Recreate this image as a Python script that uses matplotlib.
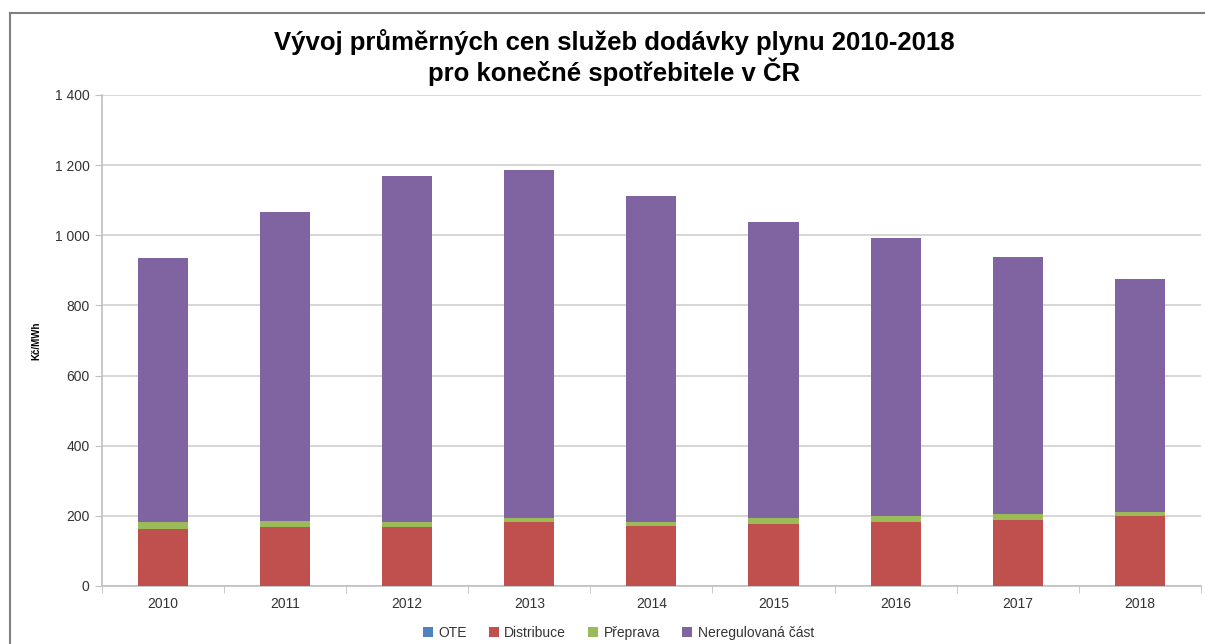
import numpy as np
import matplotlib.pyplot as plt
from matplotlib.lines import Line2D

# data (Kč/MWh)
years = ['2010', '2011', '2012', '2013', '2014', '2015', '2016', '2017', '2018']
ote = [1, 1, 1, 1, 1, 1, 1, 1, 1]
distribuce = [162, 167, 168, 181, 170, 176, 181, 188, 199]
preprava = [19, 16, 13, 11, 11, 18, 18, 17, 11]
neregulovana = [752, 881, 986, 992, 929, 842, 791, 731, 663]

series_names = ['OTE', 'Distribuce', 'Přeprava', 'Neregulovaná část']
colors = ['#4F81BD', '#C0504D', '#9BBB59', '#8064A2']

plt.rcParams['font.family'] = ['Liberation Sans', 'DejaVu Sans']

fig = plt.figure(figsize=(12.05, 6.44), dpi=100)
ax = fig.add_axes([0.0846, 0.0901, 0.912, 0.7624])

x = np.arange(len(years))
bottom = np.zeros(len(years))
for vals, name, col in zip([ote, distribuce, preprava, neregulovana], series_names, colors):
    ax.bar(x, vals, width=0.41, bottom=bottom, color=col, label=name, zorder=3)
    bottom += np.array(vals)

ax.set_xlim(-0.5, len(years) - 0.5)
ax.set_ylim(0, 1400)
ax.set_yticks(range(0, 1401, 200))
ax.set_yticklabels(['0', '200', '400', '600', '800', '1 000', '1 200', '1 400'])
ax.set_xticks(x)
ax.set_xticklabels(years)
ax.set_xticks(np.arange(-0.5, len(years), 1), minor=True)

ax.grid(axis='y', color='#D0D0D0', lw=1.2, zorder=0)
for s in ['top', 'right']:
    ax.spines[s].set_visible(False)
for s in ['left', 'bottom']:
    ax.spines[s].set_color('#BFBFBF')
    ax.spines[s].set_linewidth(1.2)
ax.tick_params(axis='y', length=5, color='#BFBFBF', labelsize=10, labelcolor='#333333', pad=4)
ax.tick_params(axis='x', which='major', length=0, labelsize=10, labelcolor='#333333', pad=8)
ax.tick_params(axis='x', which='minor', length=5, color='#BFBFBF')

ax.set_ylabel('Kč/MWh', fontsize=7, fontweight='bold')
ax.yaxis.set_label_coords(-0.055, 0.5)

fig.text(0.51, 0.935, 'Vývoj průměrných cen služeb dodávky plynu 2010-2018',
         ha='center', va='center', fontsize=18.5, fontweight='bold')
fig.text(0.51, 0.888, 'pro konečné spotřebitele v ČR',
         ha='center', va='center', fontsize=18.5, fontweight='bold')

ax.legend(loc='center', bbox_to_anchor=(0.47, -0.095), ncol=4, frameon=False,
          fontsize=10, handlelength=0.7, handleheight=0.7, handletextpad=0.4,
          columnspacing=1.6, labelcolor='#333333')

# outer frame (top and left edges visible in the screenshot)
fig.add_artist(Line2D([10 / 1205, 1.0], [1 - 13 / 644, 1 - 13 / 644],
                      transform=fig.transFigure, color='#808080', lw=1.5))
fig.add_artist(Line2D([10 / 1205, 10 / 1205], [0.0, 1 - 13 / 644],
                      transform=fig.transFigure, color='#808080', lw=1.5))

fig.savefig('out.png', dpi=100)
